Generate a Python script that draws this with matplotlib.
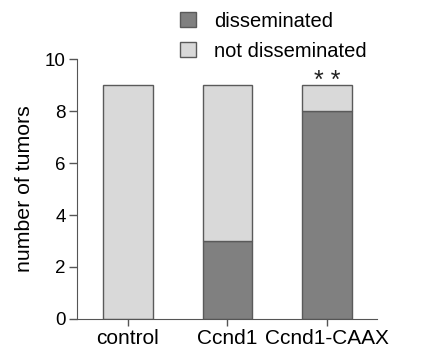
import matplotlib.pyplot as plt
import numpy as np

plt.rcParams['font.family'] = ['Liberation Sans', 'DejaVu Sans']

# data
groups = ['control', 'Ccnd1', 'Ccnd1-CAAX']
disseminated = [0, 3, 8]
not_disseminated = [9, 6, 1]
yticks = [0, 2, 4, 6, 8, 10]

fig = plt.figure(figsize=(4.42, 3.54), dpi=100)
ax = fig.add_axes([0.174, 0.099, 0.679, 0.734])

x = np.arange(len(groups))
edge = '#5a5a5a'
ax.bar(x, disseminated, width=0.5, color='#808080', edgecolor=edge, linewidth=1,
       label='disseminated')
ax.bar(x, not_disseminated, width=0.5, bottom=disseminated, color='#d9d9d9',
       edgecolor=edge, linewidth=1, label='not disseminated')

# significance stars
ax.text(x[2], disseminated[2] + not_disseminated[2] - 0.13, '* *', ha='center',
        va='baseline', fontsize=18, color='#222222')

ax.set_xlim(-0.51, 2.5)
ax.set_ylim(0, 10)
ax.set_xticks(x)
ax.set_xticklabels(groups)
ax.set_yticks(yticks)
ax.set_ylabel('number of tumors', fontsize=15.3, labelpad=8)
ax.tick_params(axis='y', labelsize=13.5, length=6, color='#555555', width=1, pad=2)
ax.tick_params(axis='x', labelsize=15, length=5, color='#555555', width=1, pad=2)

ax.spines['top'].set_visible(False)
ax.spines['right'].set_visible(False)
ax.spines['left'].set_color('#555555')
ax.spines['bottom'].set_color('#555555')

ax.legend(loc='upper left', bbox_to_anchor=(0.39, 0.99), bbox_transform=fig.transFigure,
          frameon=False, fontsize=14.5, handlelength=0.75, handleheight=0.75,
          handletextpad=0.9, labelspacing=0.55, borderaxespad=0)

plt.savefig('out.png', dpi=100)
